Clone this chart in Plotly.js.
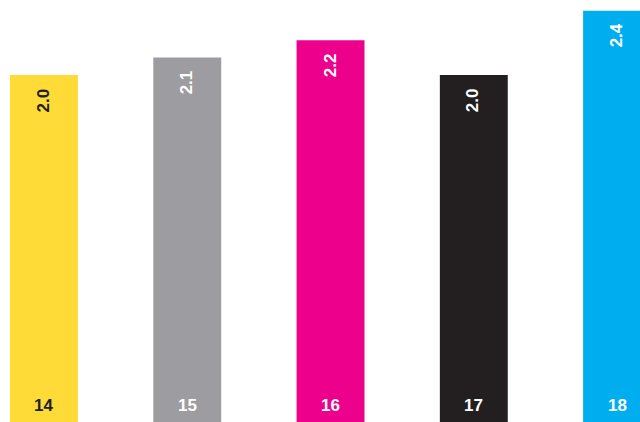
<!DOCTYPE html>
<html>
<head>
<meta charset="utf-8">
<script src="https://cdn.plot.ly/plotly-3.0.1.min.js"></script>
<style>html,body{margin:0;padding:0;background:#fff;}#chart{width:640px;height:422px;}</style>
</head>
<body>
<div id="chart"></div>
<script>
var categories = ["14", "15", "16", "17", "18"];
var values = [2.0, 2.1, 2.2, 2.0, 2.37];
var barColors = ["#FFDB38", "#9D9CA0", "#EC008C", "#231F20", "#00AEEF"];
var labelColors = ["#231F20", "#FFFFFF", "#FFFFFF", "#FFFFFF", "#FFFFFF"];

var trace = {
  type: "bar",
  x: categories,
  y: values,
  marker: {color: barColors, line: {width: 0}},
  hoverinfo: "none"
};

var annotations = [];
categories.forEach(function (c, i) {
  annotations.push({
    x: i, y: values[i], xref: "x", yref: "y",
    text: "<b>" + values[i].toFixed(1) + "</b>",
    textangle: -90,
    showarrow: false,
    xanchor: "center", yanchor: "top",
    xshift: -0.5,
    yshift: -11,
    font: {family: "Liberation Sans, Arial, sans-serif", size: 17, color: labelColors[i]}
  });
  annotations.push({
    x: i, y: 0, xref: "x", yref: "y",
    text: "<b>" + c + "</b>",
    showarrow: false,
    xanchor: "center", yanchor: "bottom",
    yshift: 5,
    font: {family: "Liberation Sans, Arial, sans-serif", size: 17, color: labelColors[i]}
  });
});

var layout = {
  width: 640, height: 422,
  margin: {l: 0, r: 0, t: 0, b: 0, pad: 0},
  paper_bgcolor: "#FFFFFF", plot_bgcolor: "#FFFFFF",
  showlegend: false,
  bargap: 0.526,
  xaxis: {type: "category", range: [-0.307, 4.16], showticklabels: false, showgrid: false, zeroline: false, showline: false, ticks: ""},
  yaxis: {range: [0, 2.432], showticklabels: false, showgrid: false, zeroline: false, showline: false, ticks: ""},
  annotations: annotations
};

Plotly.newPlot("chart", [trace], layout, {displayModeBar: false, staticPlot: true});
</script>
</body>
</html>
